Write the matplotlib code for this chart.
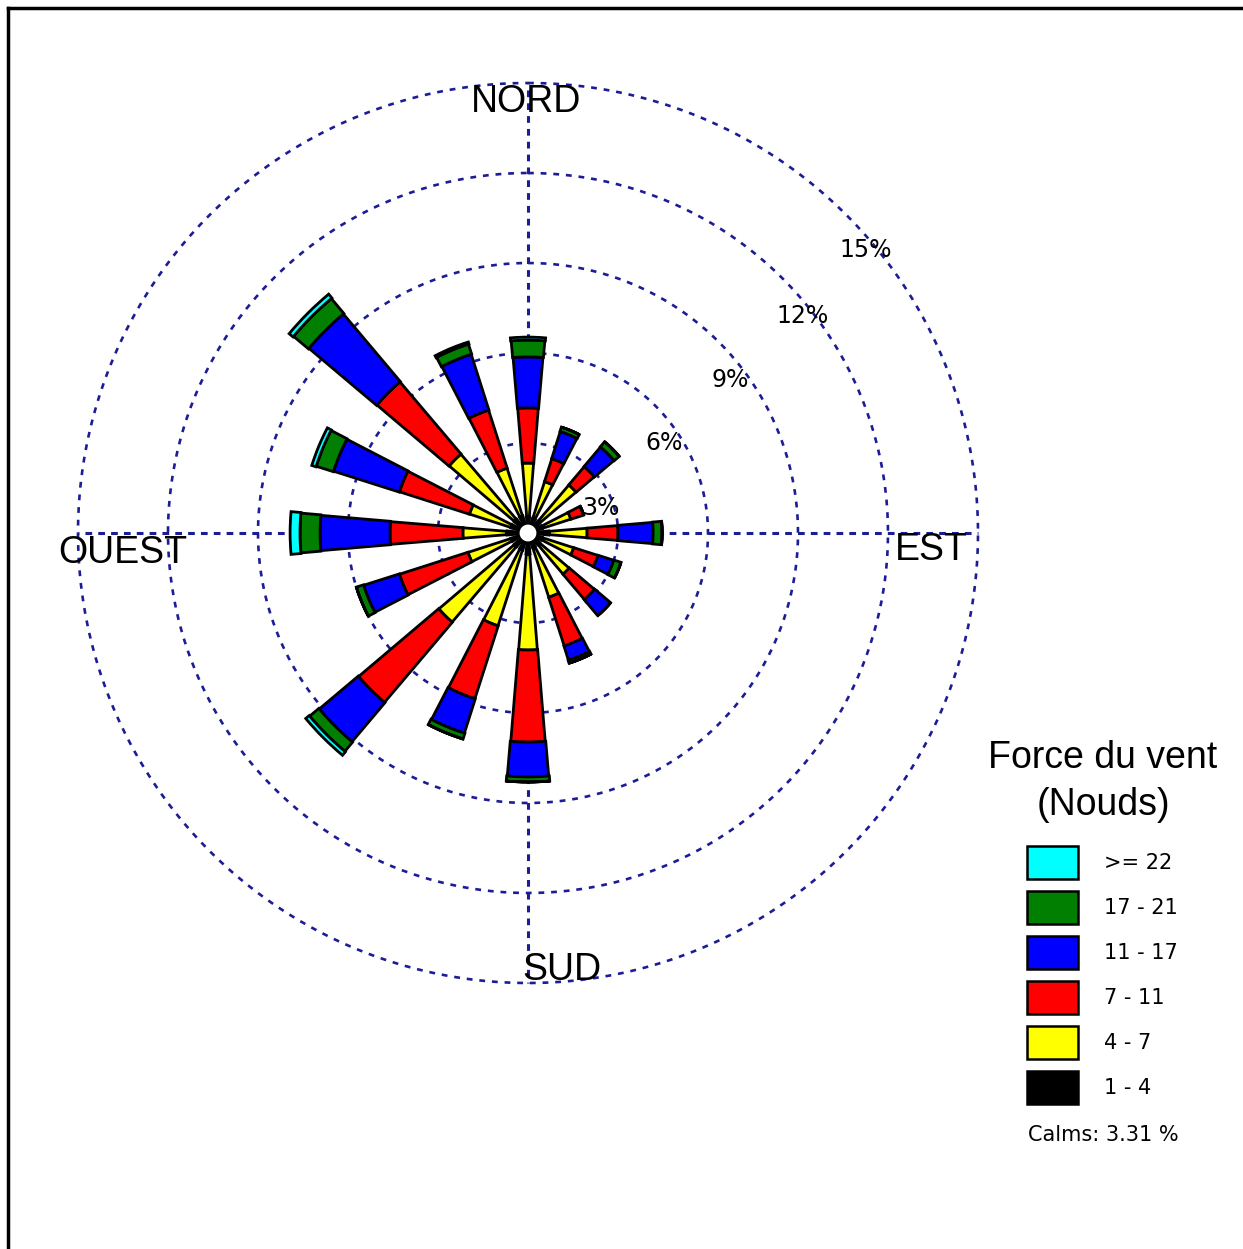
import numpy as np
import matplotlib
matplotlib.use("Agg")
import matplotlib.pyplot as plt
from matplotlib.patches import Rectangle
from matplotlib.lines import Line2D

plt.rcParams['font.family'] = ['Liberation Sans', 'DejaVu Sans']

# 16 directions, clockwise from north
directions = ["N", "NNE", "NE", "ENE", "E", "ESE", "SE", "SSE",
              "S", "SSW", "SW", "WSW", "W", "WNW", "NW", "NNW"]

# frequencies (%) per speed class
f_1_4 = [0.55, 0.5, 0.5, 0.5, 0.7, 0.5, 0.5, 0.5, 0.7, 0.6, 0.6, 0.6, 0.7, 0.6, 0.6, 0.6]
f_4_7 = [1.78, 1.3, 1.6, 1.0, 1.27, 1.1, 1.3, 1.75, 3.2, 2.65, 3.3, 1.5, 1.47, 1.45, 2.85, 1.67]
f_7_11 = [1.84, 0.8, 0.8, 0.45, 1.03, 0.85, 1.1, 1.7, 3.07, 2.55, 3.5, 2.4, 2.43, 2.45, 3.15, 2.03]
f_11_17 = [1.7, 0.95, 0.85, 0.0, 1.17, 0.55, 0.7, 0.5, 1.16, 1.2, 1.7, 1.25, 2.33, 2.3, 2.95, 1.95]
f_17_21 = [0.56, 0.15, 0.22, 0.0, 0.3, 0.25, 0.0, 0.1, 0.17, 0.2, 0.4, 0.25, 0.67, 0.6, 0.65, 0.35]
f_22 = [0.1, 0.0, 0.0, 0.0, 0.0, 0.0, 0.0, 0.0, 0.0, 0.0, 0.15, 0.0, 0.33, 0.15, 0.17, 0.07]

classes = ["1 - 4", "4 - 7", "7 - 11", "11 - 17", "17 - 21", ">= 22"]
colors = ["#000000", "#ffff00", "#ff0000", "#0000ff", "#007f00", "#00ffff"]
widths = [0.2, 0.16, 0.165, 0.17, 0.175, 0.18]
series = [f_1_4, f_4_7, f_7_11, f_11_17, f_17_21, f_22]
calms = 3.31

ring_levels = [3, 6, 9, 12, 15]
ring_labels = ["3%", "6%", "9%", "12%", "15%"]

W, H = 1243, 1249
fig = plt.figure(figsize=(W / 100, H / 100), dpi=100)
fig.patch.set_facecolor("white")

# axes: centre at (528, 533) px, 30 px per percent
cx, cy, ppp = 528, 533, 30.0
rmax = 15.3
rad = rmax * ppp
ax = fig.add_axes([(cx - rad) / W, (H - cy - rad) / H, 2 * rad / W, 2 * rad / H],
                  projection="polar")
ax.set_theta_zero_location("N")
ax.set_theta_direction(-1)
ax.set_ylim(0, rmax)
ax.grid(False)
ax.set_xticks([])
ax.set_yticks([])
ax.spines["polar"].set_visible(False)
ax.patch.set_alpha(0)

gridc = "#1c1c96"
tt = np.linspace(0, 2 * np.pi, 400)
for r in ring_levels:
    ax.plot(tt, np.full_like(tt, r), color=gridc, lw=1.9, ls=(0, (2.2, 2.6)), zorder=1)
for a in [0, 90, 180, 270]:
    ax.plot([np.deg2rad(a)] * 2, [0, 15], color=gridc, lw=2.2, ls=(0, (2.2, 2)), zorder=1)

theta = np.deg2rad(np.arange(16) * 22.5)
bottom = np.zeros(16)
for vals, col, w in zip(series, colors, widths):
    vals = np.array(vals)
    ax.bar(theta, vals, width=w, bottom=bottom, color=col, edgecolor="black",
           linewidth=2.0, zorder=3)
    bottom = bottom + vals

# calm circle
ax.bar(0, 0.28, width=2 * np.pi, bottom=0, color="white", edgecolor="none", zorder=5)


def px(x, y):
    return x / W, 1 - y / H


# compass labels
for txt, (x, y) in zip(["NORD", "OUEST", "EST", "SUD"],
                       [(526, 102), (123, 553), (931, 550), (562, 970)]):
    fig.text(*px(x, y), txt, fontsize=27, ha="center", va="center")

# ring labels
for txt, (x, y) in zip(ring_labels, [(601, 508), (664, 443), (730, 380), (803, 316), (866, 250)]):
    fig.text(*px(x, y), txt, fontsize=17, ha="center", va="center", family="DejaVu Sans")

# legend
fig.text(*px(1103, 758), "Force du vent", fontsize=27, ha="center", va="center")
fig.text(*px(1103, 805), "(Nouds)", fontsize=27, ha="center", va="center")
ys = [1088, 1043, 998, 953, 908, 863]
for lab, col, y in zip(classes, colors, ys):
    x0, y0 = px(1027, y + 16)
    fig.add_artist(Rectangle((x0, y0), 51 / W, 33 / H, transform=fig.transFigure,
                             facecolor=col, edgecolor="black", lw=1.8))
    fig.text(*px(1104, y), lab, fontsize=15, ha="left", va="center", family="DejaVu Sans")
fig.text(*px(1103, 1135), f"Calms: {calms:.2f} %", fontsize=15, ha="center", va="center",
         family="DejaVu Sans")

# frame (top and left edges)
fig.add_artist(Line2D([8 / W, 1], [1 - 8 / H] * 2, transform=fig.transFigure, color="black", lw=2.5))
fig.add_artist(Line2D([8 / W] * 2, [0, 1 - 8 / H], transform=fig.transFigure, color="black", lw=2.5))

fig.savefig("out.png", dpi=100, facecolor="white")
